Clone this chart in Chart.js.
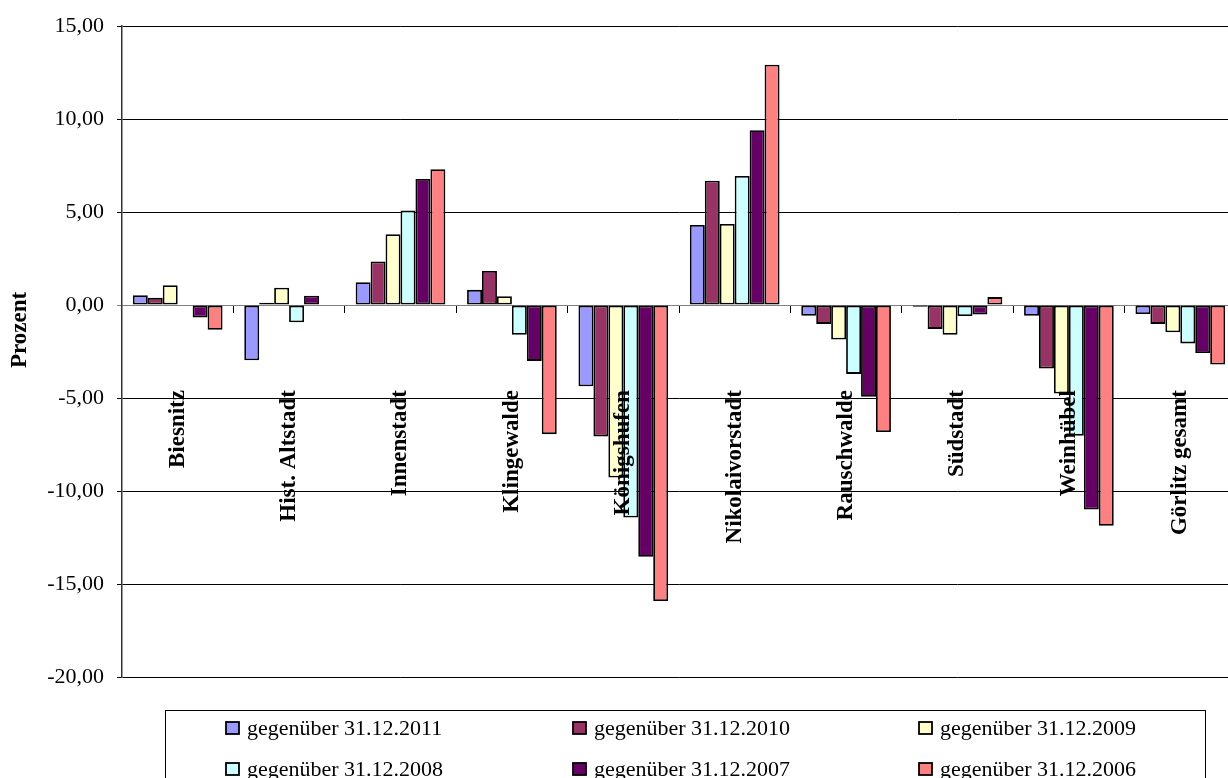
<!DOCTYPE html>
<html>
<head>
<meta charset="utf-8">
<script src="https://cdn.jsdelivr.net/npm/chart.js@4/dist/chart.umd.min.js"></script>
<style>
    html, body { margin: 0; padding: 0; background: #fff; overflow: hidden; }
    #wrap { position: absolute; left: 0; top: 0; width: 1236px; height: 778px; }
</style>
</head>
<body>
<div id="wrap"><canvas id="chart"></canvas></div>
<script>
// Stadtteile
const categories = ['Biesnitz', 'Hist. Altstadt', 'Innenstadt', 'Klingewalde', 'Königshufen',
    'Nikolaivorstadt', 'Rauschwalde', 'Südstadt', 'Weinhübel', 'Görlitz gesamt'];

const seriesLabels = ['gegenüber 31.12.2011', 'gegenüber 31.12.2010', 'gegenüber 31.12.2009',
    'gegenüber 31.12.2008', 'gegenüber 31.12.2007', 'gegenüber 31.12.2006'];

const werte2011 = [0.53, -2.97, 1.23, 0.82, -4.36, 4.31, -0.57, -0.09, -0.57, -0.48];
const werte2010 = [0.39, 0.13, 2.35, 1.84, -7.06, 6.69, -1.01, -1.28, -3.41, -1.01];
const werte2009 = [1.07, 0.94, 3.81, 0.48, -9.27, 4.36, -1.85, -1.60, -4.76, -1.46];
const werte2008 = [0, -0.92, 5.09, -1.60, -11.42, 6.94, -3.70, -0.59, -7.02, -2.06];
const werte2007 = [-0.66, 0.50, 6.78, -3.00, -13.53, 9.41, -4.93, -0.50, -10.99, -2.58];
const werte2006 = [-1.33, 0, 7.31, -6.94, -15.91, 12.93, -6.82, 0.43, -11.87, -3.20];

const yTicks = [15, 10, 5, 0, -5, -10, -15, -20];
const yTitle = 'Prozent';

const colors = ['#9999FF', '#993366', '#FFFFCC', '#CCFFFF', '#660066', '#FF8080'];
const allValues = [werte2011, werte2010, werte2009, werte2008, werte2007, werte2006];

const serif = "'Liberation Serif', 'Times New Roman', serif";
Chart.defaults.font.family = serif;
Chart.defaults.color = '#000';

// legend box at the bottom (3 columns x 2 rows) + y axis title
const boxLegend = {
    id: 'boxLegend',
    afterDraw(chart) {
        const ctx = chart.ctx;
        ctx.save();

        ctx.save();
        ctx.translate(20, 330);
        ctx.rotate(-Math.PI / 2);
        ctx.font = 'bold 23px ' + serif;
        ctx.fillStyle = '#000';
        ctx.textAlign = 'center';
        ctx.textBaseline = 'middle';
        ctx.fillText(yTitle, 0, 0);
        ctx.restore();

        ctx.strokeStyle = '#000';
        ctx.lineWidth = 1;
        ctx.strokeRect(165.5, 710.5, 1040, 90);
        const colX = [226, 573, 919];
        const rowY = [728, 769];
        ctx.font = '22px ' + serif;
        ctx.textBaseline = 'middle';
        ctx.textAlign = 'left';
        chart.data.datasets.forEach((ds, i) => {
            const x = colX[i % 3];
            const y = rowY[Math.floor(i / 3)];
            ctx.fillStyle = ds.backgroundColor;
            ctx.fillRect(x, y - 6, 13, 12);
            ctx.lineWidth = 1.8;
            ctx.strokeStyle = '#000';
            ctx.strokeRect(x, y - 6, 13, 12);
            ctx.fillStyle = '#000';
            ctx.fillText(ds.label, x + 21, y + 1);
        });
        ctx.restore();
    }
};

const ctx = document.getElementById('chart').getContext('2d');

new Chart(ctx, {
    type: 'bar',
    data: {
        labels: categories,
        datasets: seriesLabels.map((label, i) => ({
            label: label,
            data: allValues[i],
            backgroundColor: colors[i],
            borderColor: '#000',
            borderWidth: 1.8,
            borderSkipped: false,
            barPercentage: 1,
            categoryPercentage: 0.805,
        })),
    },
    options: {
        responsive: true,
        maintainAspectRatio: false,
        animation: false,
        layout: {
            padding: { top: 21, bottom: 101, left: 0, right: 0 },
        },
        plugins: {
            legend: { display: false },
            tooltip: { enabled: false },
        },
        scales: {
            x: {
                position: { y: 0 },
                afterFit: scale => { scale.paddingLeft = 0; scale.paddingRight = 0; },
                grid: {
                    offset: true,
                    drawOnChartArea: false,
                    drawTicks: true,
                    tickLength: 7,
                    color: '#000',
                },
                border: { display: true, color: '#808080', width: 1 },
                ticks: {
                    z: 1,
                    autoSkip: false,
                    minRotation: 90,
                    maxRotation: 90,
                    padding: 78,
                    font: { size: 23, weight: 'bold' },
                    color: '#000',
                },
            },
            y: {
                min: -20,
                max: 15,
                afterFit: scale => { scale.width = 122; },
                afterBuildTicks: scale => { scale.ticks = yTicks.map(v => ({ value: v })); },
                grid: {
                    color: ctx => (ctx.tick && ctx.tick.value === 0 ? '#808080' : '#000'),
                    tickLength: 5,
                },
                border: { display: true, color: '#333', width: 1.5 },
                ticks: {
                    padding: 13,
                    font: { size: 22 },
                    color: '#000',
                    callback: v => v.toFixed(2).replace('.', ','),
                },
            },
        },
    },
    plugins: [boxLegend],
});
</script>
</body>
</html>
